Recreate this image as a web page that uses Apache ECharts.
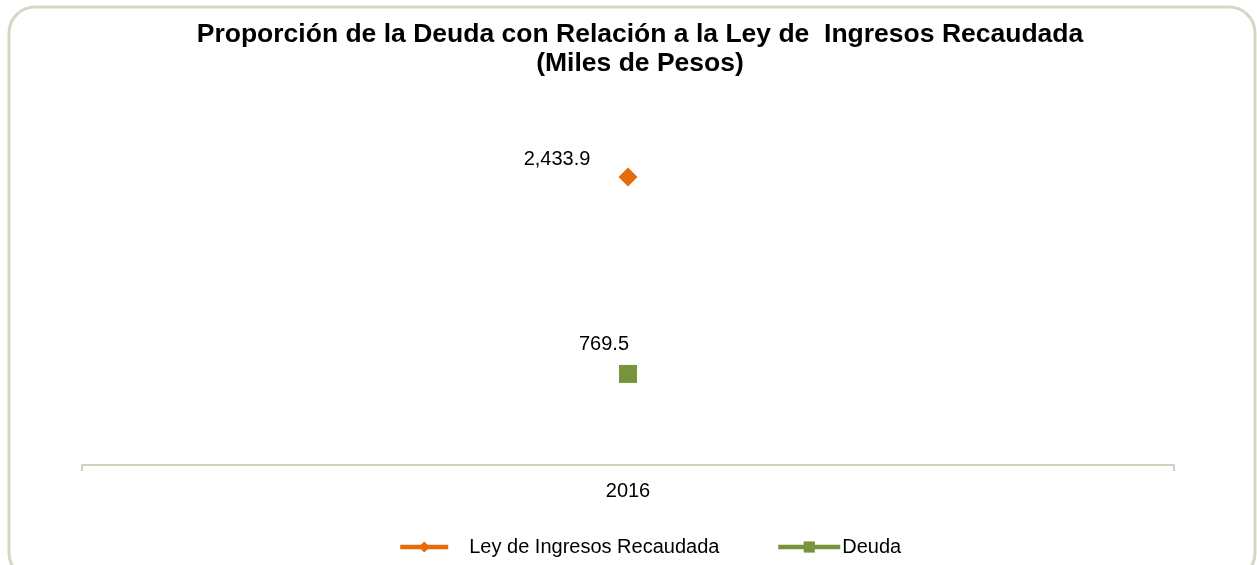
<!DOCTYPE html>
<html>
<head>
<meta charset="utf-8">
<script src="https://cdn.jsdelivr.net/npm/echarts@6/dist/echarts.min.js"></script>
<style>
html,body{margin:0;padding:0;background:#fff;}
#c{width:1257px;height:565px;}
</style>
</head>
<body>
<div id="c"></div>
<script>
const categories = ['2016'];
const leyIngresos = [2433.9];
const deuda = [769.5];
const seriesNames = ['Ley de Ingresos Recaudada', 'Deuda'];

const chart = echarts.init(document.getElementById('c'), null, {renderer: 'canvas'});
const fmt = v => v.toLocaleString('en-US', {minimumFractionDigits: 1, maximumFractionDigits: 1});
const FONT = 'Liberation Sans, Arial, sans-serif';

chart.setOption({
  animation: false,
  backgroundColor: '#fff',
  textStyle: {fontFamily: FONT},
  graphic: [{
    type: 'rect', z: 100, silent: true,
    shape: {x: 9, y: 7, width: 1246, height: 572, r: 26},
    style: {fill: 'none', stroke: '#d5d7c5', lineWidth: 3}
  }],
  title: {
    text: 'Proporción de la Deuda con Relación a la Ley de  Ingresos Recaudada\n(Miles de Pesos)',
    left: 640, top: 20, textAlign: 'center', padding: 0,
    textStyle: {fontFamily: FONT, fontWeight: 'bold', fontSize: 26.5, lineHeight: 29, color: '#000'}
  },
  legend: [{
    data: [seriesNames[0]],
    left: 398, top: 537, padding: 0,
    itemWidth: 48, itemHeight: 14,
    lineStyle: {width: 4.5},
    textStyle: {fontFamily: FONT, fontSize: 20, color: '#000', padding: [0, 0, 0, 16]}
  }, {
    data: [seriesNames[1]],
    left: 776, top: 537, padding: 0,
    itemWidth: 62, itemHeight: 14,
    lineStyle: {width: 4.5},
    textStyle: {fontFamily: FONT, fontSize: 20, color: '#000', padding: [0, 0, 0, -3]}
  }],
  grid: {left: 82, right: 83, top: 110, bottom: 100},
  xAxis: {
    type: 'category', data: categories, boundaryGap: true,
    axisLine: {lineStyle: {color: '#d0d2c0', width: 2}},
    axisTick: {show: true, length: 6, lineStyle: {color: '#d0d2c0', width: 2}},
    axisLabel: {fontFamily: FONT, fontSize: 20, color: '#000', margin: 16}
  },
  yAxis: {
    type: 'value', min: 0, max: 3000, interval: 500,
    axisLine: {show: false}, axisTick: {show: false},
    axisLabel: {show: false}, splitLine: {show: false}
  },
  series: [{
    name: seriesNames[0], type: 'line', data: leyIngresos,
    symbol: 'diamond', symbolSize: 19,
    itemStyle: {color: '#E46C0A'},
    lineStyle: {color: '#E46C0A', width: 4},
    label: {show: true, position: 'top', offset: [-71, 7], fontFamily: FONT, fontSize: 20, color: '#000', formatter: p => fmt(p.value)}
  }, {
    name: seriesNames[1], type: 'line', data: deuda,
    symbol: 'rect', symbolSize: 18,
    itemStyle: {color: '#77933C'},
    lineStyle: {color: '#77933C', width: 4},
    label: {show: true, position: 'top', offset: [-24, -5], fontFamily: FONT, fontSize: 20, color: '#000', formatter: p => fmt(p.value)}
  }]
});
</script>
</body>
</html>
